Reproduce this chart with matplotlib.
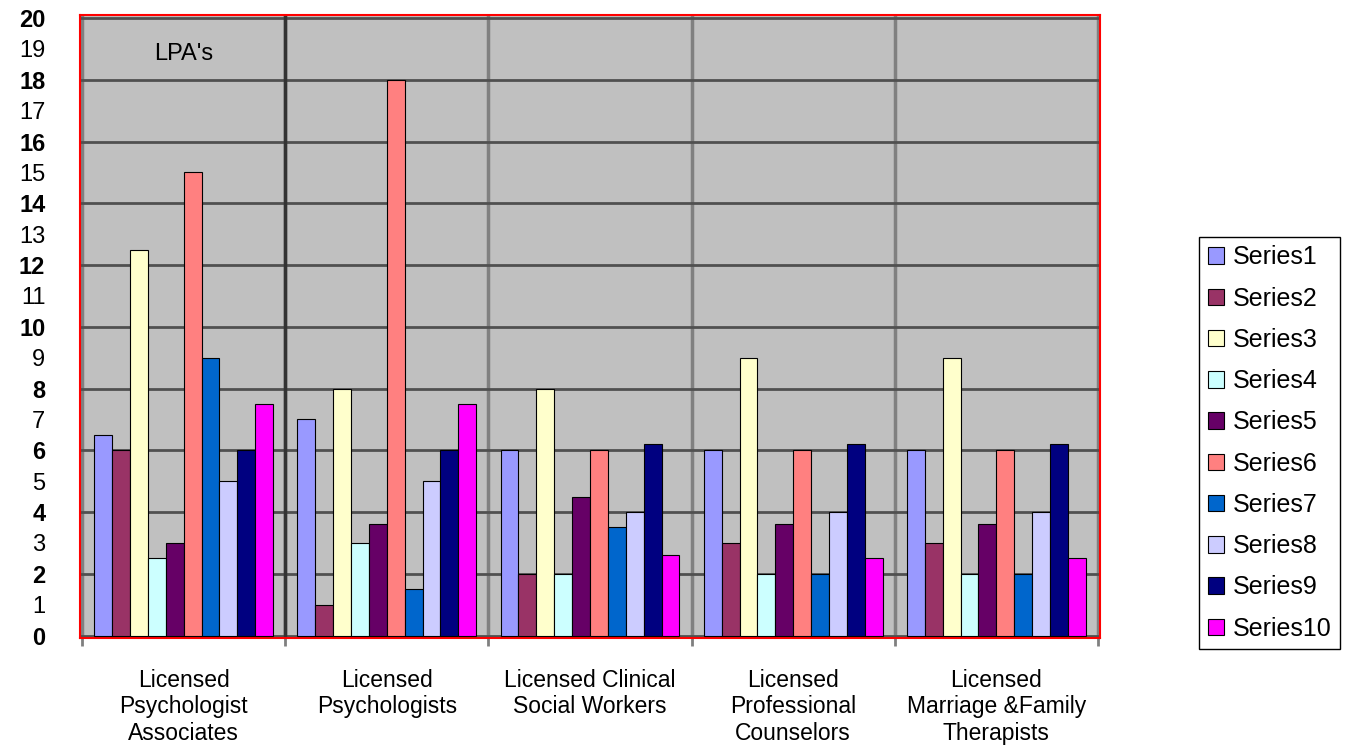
import numpy as np
import matplotlib
matplotlib.use("Agg")
import matplotlib.pyplot as plt

plt.rcParams['font.family'] = ['Liberation Sans', 'DejaVu Sans']

categories = ["Licensed\nPsychologist\nAssociates", "Licensed\nPsychologists",
              "Licensed Clinical\nSocial Workers", "Licensed\nProfessional\nCounselors",
              "Licensed\nMarriage &Family\nTherapists"]
series_names = ["Series1", "Series2", "Series3", "Series4", "Series5",
                "Series6", "Series7", "Series8", "Series9", "Series10"]
colors = ["#9999FF", "#993366", "#FFFFCC", "#CCFFFF", "#660066",
          "#FF8080", "#0066CC", "#CCCCFF", "#000080", "#FF00FF"]

# values per series, one per category
series1 = [6.5, 7, 6, 6, 6]
series2 = [6, 1, 2, 3, 3]
series3 = [12.5, 8, 8, 9, 9]
series4 = [2.5, 3, 2, 2, 2]
series5 = [3, 3.6, 4.5, 3.6, 3.6]
series6 = [15, 18, 6, 6, 6]
series7 = [9, 1.5, 3.5, 2, 2]
series8 = [5, 5, 4, 4, 4]
series9 = [6, 6, 6.2, 6.2, 6.2]
series10 = [7.5, 7.5, 2.6, 2.5, 2.5]
values = [series1, series2, series3, series4, series5,
          series6, series7, series8, series9, series10]

fig = plt.figure(figsize=(13.61, 7.5), dpi=100)
ax = fig.add_axes([80 / 1361, 1 - 638 / 750, 1020 / 1361, 623 / 750])
ax.set_facecolor("#C0C0C0")

x = np.arange(len(categories))
w = 0.088
n = len(values)
for i in range(n):
    ax.bar(x + (i - (n - 1) / 2) * w, values[i], width=w, color=colors[i],
           edgecolor="black", linewidth=0.8, label=series_names[i], zorder=3)

ax.set_xlim(-0.51, 4.51)
ax.set_ylim(-0.08, 20.1)

# even values bold with gridlines, odd values plain
ax.set_yticks(range(0, 21, 2), labels=[str(v) for v in range(0, 21, 2)])
ax.set_yticks(range(1, 20, 2), labels=[str(v) for v in range(1, 20, 2)], minor=True)
for lab in ax.get_yticklabels():
    lab.set_fontweight("bold")
ax.tick_params(axis="y", which="both", length=0, labelsize=17, pad=25)
ax.yaxis.grid(True, which="major", color="#505050", linewidth=2, zorder=1)

ax.set_xticks(x, labels=categories)
ax.set_xticks(np.arange(-0.5, 5, 1), minor=True)
ax.tick_params(axis="x", which="major", length=0, labelsize=16.5, pad=22)
ax.tick_params(axis="x", which="minor", length=6, color="#808080", width=2)
ax.xaxis.grid(True, which="minor", color="#808080", linewidth=2.5, zorder=1)
ax.axvline(0.5, color="#333333", linewidth=2.5, zorder=2)
ax.set_axisbelow(True)

for s in ax.spines.values():
    s.set_color("red")
    s.set_linewidth(1.5)

ax.text(0.0, 18.85, "LPA's", fontsize=17, ha="center", va="center", zorder=4)

leg = fig.legend(loc="center left", bbox_to_anchor=(1199 / 1361, 1 - 443 / 750),
                 fontsize=18, handlelength=0.64, handleheight=0.64, handletextpad=0.35,
                 labelspacing=0.69, fancybox=False, edgecolor="black",
                 borderpad=0.35, borderaxespad=0, framealpha=1)
leg.get_frame().set_linewidth(1)

fig.savefig("out.png", dpi=100)
